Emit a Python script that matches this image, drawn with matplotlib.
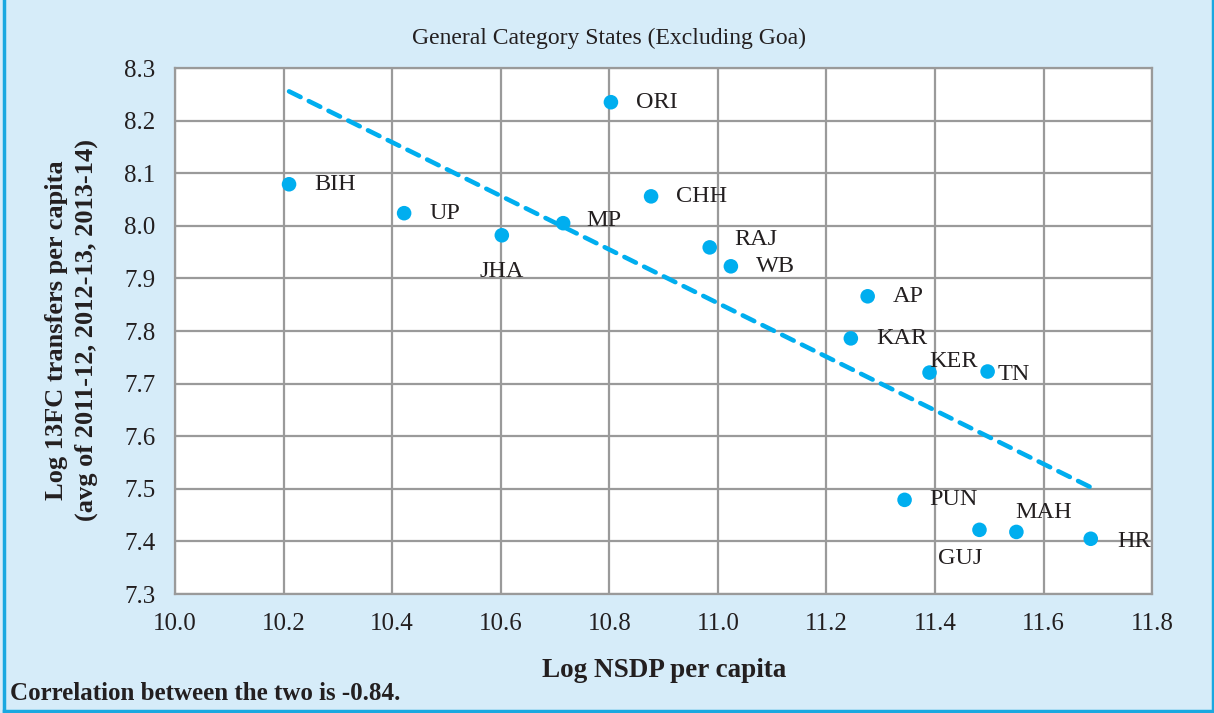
import numpy as np
import matplotlib.pyplot as plt
from matplotlib.lines import Line2D

# data: log NSDP per capita vs log 13FC transfers per capita
states = ['BIH', 'UP', 'JHA', 'MP', 'ORI', 'CHH', 'RAJ', 'WB',
          'AP', 'KAR', 'KER', 'TN', 'PUN', 'GUJ', 'MAH', 'HR']
log_nsdp = [10.21, 10.422, 10.602, 10.715, 10.803, 10.877, 10.985, 11.024,
            11.276, 11.245, 11.39, 11.497, 11.344, 11.482, 11.55, 11.687]
log_transfers = [8.079, 8.024, 7.982, 8.005, 8.235, 8.056, 7.959, 7.923,
                 7.866, 7.786, 7.721, 7.723, 7.479, 7.422, 7.418, 7.405]

# label offsets in points (dx, dy, ha)
offsets = {'BIH': (18, 0, 'left'), 'UP': (18, 0, 'left'), 'JHA': (0, -26, 'center'),
           'MP': (17, 2, 'left'), 'ORI': (18, 0, 'left'), 'CHH': (18, 0, 'left'),
           'RAJ': (18, 6, 'left'), 'WB': (18, 0, 'left'), 'AP': (18, 0, 'left'),
           'KAR': (18, 0, 'left'), 'KER': (0, 8, 'left'), 'TN': (7, -2, 'left'),
           'PUN': (18, 0, 'left'), 'GUJ': (-30, -21, 'left'), 'MAH': (-1, 14, 'left'),
           'HR': (19, -2, 'left')}

blue = '#00aeef'
bg = '#d6ecf9'
grid_c = '#9a9a9a'
txt = '#231f20'

plt.rcParams['font.family'] = ['Liberation Serif', 'DejaVu Serif']

fig = plt.figure(figsize=(12.14, 7.13), dpi=100, facecolor=bg)
ax = fig.add_axes([0.1442, 0.1669, 0.8048, 0.7377])
ax.set_facecolor('white')

ax.set_xlim(10.0, 11.8)
ax.set_ylim(7.3, 8.3)
ax.set_xticks(np.arange(10.0, 11.81, 0.2))
ax.set_yticks(np.arange(7.3, 8.31, 0.1))
ax.xaxis.set_major_formatter(plt.FormatStrFormatter('%.1f'))
ax.yaxis.set_major_formatter(plt.FormatStrFormatter('%.1f'))
ax.tick_params(axis='both', length=0, labelsize=18, colors=txt)
ax.tick_params(axis='y', pad=14)
ax.tick_params(axis='x', pad=14)
ax.grid(True, color=grid_c, linewidth=1.6)
ax.set_axisbelow(True)
for s in ax.spines.values():
    s.set_color(grid_c)
    s.set_linewidth(1.6)

# trend line
coef = np.polyfit(log_nsdp, log_transfers, 1)
xs = np.array([min(log_nsdp), max(log_nsdp)])
ax.plot(xs, np.polyval(coef, xs), color=blue, linewidth=3.3, linestyle=(0, (2.8, 2.0)),
        dash_capstyle='round', zorder=2)

ax.scatter(log_nsdp, log_transfers, s=110, color=blue, edgecolor='none', zorder=3)

for name, x, y in zip(states, log_nsdp, log_transfers):
    dx, dy, ha = offsets[name]
    ax.annotate(name, (x, y), xytext=(dx, dy), textcoords='offset points',
                ha=ha, va='center', fontsize=17.5, color=txt, zorder=4)

fig.text(0.502, 0.946, 'General Category States (Excluding Goa)', ha='center', va='center',
         fontsize=17, color=txt)
fig.text(0.547, 0.059, 'Log NSDP per capita', ha='center', va='center',
         fontsize=19.5, fontweight='bold', color=txt)
fig.text(0.059, 0.537, 'Log 13FC transfers per capita\n(avg of 2011-12, 2012-13, 2013-14)',
         ha='center', va='center', rotation=90, fontsize=19, fontweight='bold',
         color=txt, linespacing=1.35)
fig.text(0.008, 0.027, 'Correlation between the two is -0.84.', ha='left', va='center',
         fontsize=18, fontweight='bold', color=txt)

# frame around the figure
for xy in [([0.003, 0.003], [0.0, 1.0]), ([0.999, 0.999], [0.0, 1.0]), ([0.003, 0.999], [0.003, 0.003])]:
    fig.add_artist(Line2D(xy[0], xy[1], color='#1aa8e0', linewidth=2.5))

fig.savefig('out.png', dpi=100, facecolor=bg)
